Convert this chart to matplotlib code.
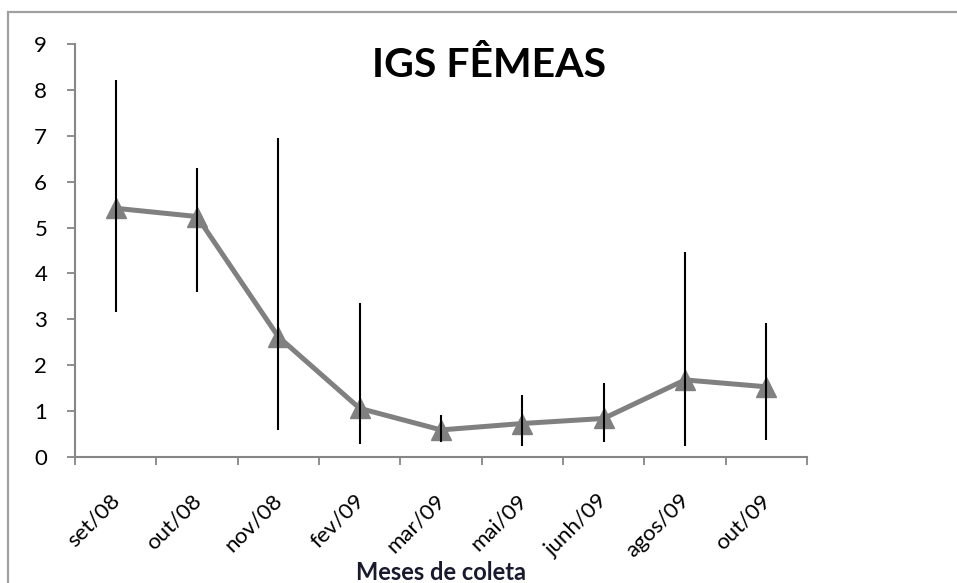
import matplotlib
matplotlib.use("Agg")
import numpy as np
import matplotlib.pyplot as plt
from matplotlib.patches import Rectangle
from matplotlib.transforms import ScaledTranslation

# data
months = ["set/08", "out/08", "nov/08", "fev/09", "mar/09", "mai/09", "junh/09", "agos/09", "out/09"]
igs = [5.42, 5.24, 2.62, 1.06, 0.59, 0.73, 0.84, 1.68, 1.53]
err_top = [8.21, 6.29, 6.96, 3.36, 0.92, 1.35, 1.61, 4.47, 2.93]
err_bottom = [3.16, 3.60, 0.59, 0.28, 0.32, 0.25, 0.32, 0.25, 0.37]

plt.rcParams["font.family"] = ["Lato", "DejaVu Sans"]

fig = plt.figure(figsize=(9.57, 5.83), dpi=100)
W, H = 957, 583
ax = fig.add_axes([75 / W, 1 - 457 / H, (807 - 75) / W, (457 - 44) / H])

x = np.arange(len(months))
y = np.array(igs)
lo = y - np.array(err_bottom)
hi = np.array(err_top) - y

ax.errorbar(x, y, yerr=[lo, hi], fmt="none", ecolor="black", elinewidth=1.5, capsize=0, zorder=3)
ax.plot(x, y, color="#808080", lw=3.6, marker="^", markersize=14, markerfacecolor="#808080",
        markeredgecolor="#808080", zorder=2)

ax.set_xlim(-0.5, len(months) - 0.5)
ax.set_ylim(0, 9)
ax.set_yticks(range(10))
ax.set_xticks(np.arange(-0.5, len(months), 1.0))
ax.set_xticklabels([])
ax.set_xticks(x, minor=True)
ax.set_xticklabels(months, minor=True, rotation=45, ha="right", va="top", rotation_mode="anchor", fontsize=16)
ax.tick_params(axis="x", which="minor", length=0, pad=24)
ax.tick_params(axis="x", which="major", length=6, color="#868686", width=1.3)
ax.tick_params(axis="y", length=6, color="#868686", width=1.3, labelsize=16, pad=14)
shift = ScaledTranslation(-6 / 100, 0, fig.dpi_scale_trans)
for lab in ax.get_xticklabels(minor=True):
    lab.set_transform(lab.get_transform() + shift)

for s in ["top", "right"]:
    ax.spines[s].set_visible(False)
for s in ["left", "bottom"]:
    ax.spines[s].set_color("#868686")
    ax.spines[s].set_linewidth(1.5)

fig.text(489 / W, 1 - 77 / H, "IGS FÊMEAS", ha="center", va="baseline", fontsize=29.5, fontweight="bold")
fig.text(441 / W, 1 - 580 / H, "Meses de coleta", ha="center", va="baseline", fontsize=17, fontweight="bold",
         color="#1a1a2e")

# chart area border
fig.patches.append(Rectangle((8 / W, -0.05), 1.2, 1 - 12 / H + 0.05, transform=fig.transFigure,
                             fill=False, edgecolor="#a0a0a0", lw=1.6))

fig.savefig("out.png", dpi=100)
